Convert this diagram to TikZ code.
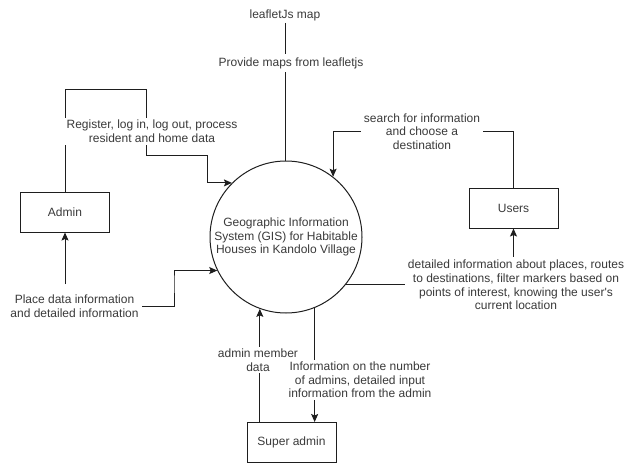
\documentclass[tikz,border=0pt]{standalone}
\usepackage{fontspec}
\setmainfont{Liberation Sans}
\usetikzlibrary{arrows.meta}
\pgfdeclarelayer{bg}
\pgfsetlayers{bg,main}
\definecolor{txt}{HTML}{3A3A3A}
\definecolor{ln}{HTML}{1E1E1E}
\tikzset{
  every node/.style={font=\fontsize{12}{13.6}\selectfont, text=txt},
  entity/.style={draw=ln, line width=1pt, minimum width=89pt, minimum height=40pt, inner sep=2pt},
  process/.style={draw=ln, line width=1pt, circle, minimum size=152pt, inner sep=0pt, align=center},
  lbl/.style={align=center, fill=white, inner sep=3pt},
  flow/.style={draw=ln, line width=1pt},
  arr/.style={flow, -{Stealth[length=8pt,width=7pt,inset=1.5pt]}}
}
\begin{document}
\begin{tikzpicture}[x=1pt,y=-1pt]
\useasboundingbox (0,0) rectangle (631,463);
% nodes
\node[process] (gis) at (286,237) {Geographic Information\\System (GIS) for Habitable\\Houses in Kandolo Village};
\node[entity] (admin) at (65,212) {Admin};
\node[entity] (users) at (513.5,208) {Users};
\node[entity] (sa) at (291.5,442.5) {Super admin};
\node[inner sep=2pt] (leaflet) at (285,15) {leafletJs map};
\node[lbl] (lp) at (291,63) {Provide maps from leafletjs};
\node[lbl, inner sep=2pt] (lr) at (152,131.5) {Register, log in, log out, process\\resident and home data};
\node[lbl] (pl) at (74.5,306.5) {Place data information\\and detailed information};
\node[lbl] (su) at (422,131.5) {search for information\\and choose a\\destination};
\node[lbl] (dl) at (516,285) {detailed information about places, routes\\to destinations, filter markers based on\\points of interest, knowing the user\textquotesingle s\\current location};
\node[lbl, inner sep=2pt] (am) at (258,360) {admin member\\data};
\node[lbl, inner sep=2pt] (ia) at (360,380) {Information on the number\\of admins, detailed input\\information from the admin};
\coordinate (pltop) at ([yshift=8pt]pl.north);
% connectors
\begin{pgfonlayer}{bg}
\draw[flow] (leaflet.south) -- (leaflet.south |- gis.north);
\draw[arr] (admin.north) |- (146,89) -- (146,155) -- (207,155) |- (gis.135);
\draw[arr] (pltop -| admin.south) -- (admin.south);
\draw[arr] (pl.east) -| (174,280) |- (gis.206);
\draw[flow] (users.north) |- (su.east);
\draw[arr] (su.west) -| (gis.52);
\draw[arr] (dl.north -| users.south) -- (users.south);
\draw[flow] (gis.-38) -- (gis.-38 -| dl.west);
\draw[arr] (sa.north -| gis.-110) -- (gis.-110);
\draw[arr] (gis.-68) -- (gis.-68 |- sa.north);
\end{pgfonlayer}
\end{tikzpicture}
\end{document}
